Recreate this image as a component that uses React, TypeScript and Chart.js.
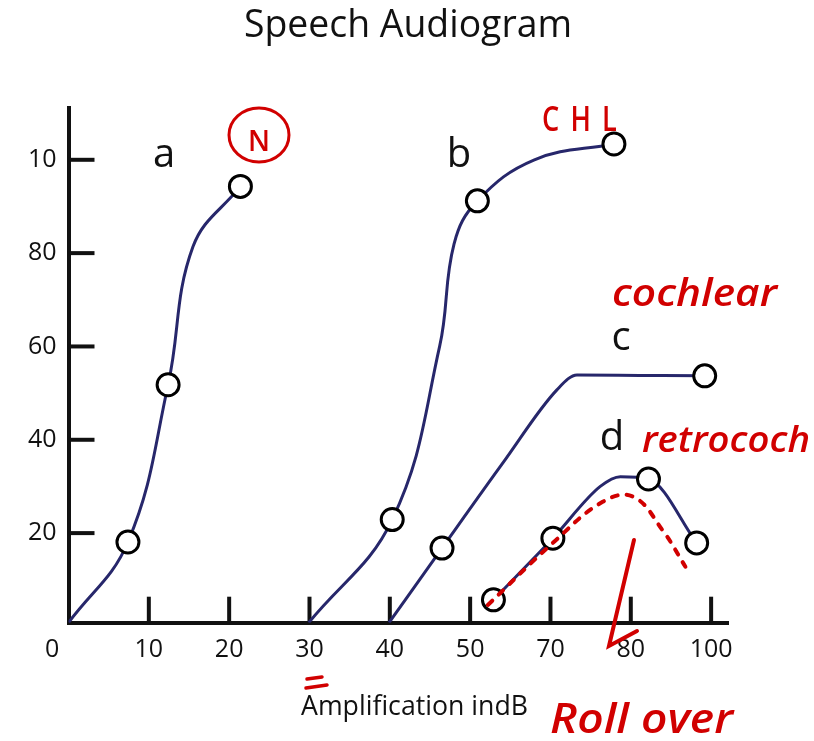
import React, { useEffect, useRef } from "react";
import { Chart, registerables } from "chart.js";

Chart.register(...registerables);

// ---- axis tick labels ----
const xTickLabels = ["0", "10", "20", "30", "40", "50", "70", "80", "100"];
const yTickValues = [20, 40, 60, 80, 100];
const yTickLabels = ["20", "40", "60", "80", "10"];

// ---- curve a ----
const aX = [0, 0.74, 1.24, 1.55, 2.14];
const aY = [0.8, 18.1, 51.8, 81.4, 94.3];
const aMarker = [false, true, true, false, true];

// ---- curve b ----
const bX = [2.99, 4.03, 4.62, 4.8, 5.09, 5.8, 6.79];
const bY = [0.8, 22.9, 60.0, 82.0, 91.2, 100.0, 103.4];
const bMarker = [false, true, false, false, true, false, true];

// ---- curve c ----
const cX = [3.99, 4.65, 5.41, 6.08, 6.33, 7.11, 7.92];
const cY = [0.8, 16.8, 35.1, 50.7, 53.9, 53.8, 53.7];
const cMarker = [false, true, false, false, false, false, true];

// ---- curve d ----
const dX = [5.29, 6.03, 6.62, 6.87, 7.22, 7.82];
const dY = [5.7, 18.9, 30.0, 32.1, 31.6, 17.9];
const dMarker = [true, true, false, false, true, true];

// ---- red dotted (hand-drawn roll-over) ----
const rX = [5.22, 6.03, 6.65, 7.03, 7.4, 7.68];
const rY = [4.6, 17.9, 26.7, 27.8, 20.5, 12.8];

const NAVY = "#27276b";
const RED = "#d10000";
const FONT = '"Open Sans", "Noto Sans", sans-serif';

function pts(xs: number[], ys: number[]) {
  return xs.map((x, i) => ({ x, y: ys[i] }));
}

function curve(
  label: string,
  xs: number[],
  ys: number[],
  marker: boolean[],
  mode: "default" | "monotone",
  tension: number
) {
  return {
    label,
    data: pts(xs, ys),
    borderColor: NAVY,
    borderWidth: 3,
    cubicInterpolationMode: mode,
    tension,
    fill: false,
    pointRadius: marker.map((m) => (m ? 11 : 0)),
    pointBackgroundColor: "#ffffff",
    pointBorderColor: "#000000",
    pointBorderWidth: 3,
    order: 2,
  };
}

function drawFitted(
  ctx: CanvasRenderingContext2D,
  text: string,
  x0: number,
  x1: number,
  baseline: number,
  font: string,
  spacing = "0px"
) {
  ctx.save();
  ctx.font = font;
  (ctx as any).letterSpacing = spacing;
  ctx.textAlign = "left";
  ctx.textBaseline = "alphabetic";
  const w = ctx.measureText(text).width;
  const sx = (x1 - x0) / w;
  ctx.translate(x0, baseline);
  ctx.scale(sx, 1);
  ctx.fillText(text, 0, 0);
  ctx.restore();
}

const decorPlugin = {
  id: "decor",
  beforeDatasetsDraw(chart: any) {
    const { ctx, chartArea, scales } = chart;
    const x = scales.x;
    const y = scales.y;
    ctx.save();
    ctx.strokeStyle = "#111111";
    ctx.lineWidth = 4;
    x.ticks.forEach((t: any) => {
      if (t.value === 0) return;
      const px = x.getPixelForValue(t.value);
      ctx.beginPath();
      ctx.moveTo(px, chartArea.bottom);
      ctx.lineTo(px, chartArea.bottom - 26);
      ctx.stroke();
    });
    y.ticks.forEach((t: any) => {
      const py = y.getPixelForValue(t.value);
      ctx.beginPath();
      ctx.moveTo(chartArea.left, py);
      ctx.lineTo(chartArea.left + 26, py);
      ctx.stroke();
    });
    ctx.restore();
  },
  afterDraw(chart: any) {
    const { ctx } = chart;
    ctx.save();
    // title
    ctx.fillStyle = "#111111";
    drawFitted(ctx, "Speech Audiogram", 244, 572, 37, `38px ${FONT}`);
    // axis title
    drawFitted(ctx, "Amplification indB", 301, 528, 715, `27px ${FONT}`);
    // curve letters
    ctx.font = `40px ${FONT}`;
    ctx.textAlign = "center";
    ctx.textBaseline = "alphabetic";
    ctx.fillText("a", 164, 167);
    ctx.fillText("b", 459, 167);
    ctx.fillText("c", 621, 350);
    ctx.fillText("d", 612, 450);

    // red hand annotations
    ctx.fillStyle = RED;
    ctx.strokeStyle = RED;
    ctx.lineCap = "round";
    ctx.lineWidth = 3;
    ctx.beginPath();
    ctx.ellipse(259, 135, 30, 27, 0, 0, Math.PI * 2);
    ctx.stroke();
    drawFitted(ctx, "N", 248, 270, 151, `600 28px ${FONT}`);
    drawFitted(ctx, "CHL", 542, 628, 131, `600 34px ${FONT}`, "14px");
    drawFitted(ctx, "cochlear", 612, 777, 306, `italic 600 38px ${FONT}`);
    drawFitted(ctx, "retrococh", 642, 810, 452, `italic 600 36px ${FONT}`);
    drawFitted(ctx, "Roll over", 550, 733, 733, `italic 600 42px ${FONT}`);
    // "=" marks above A
    ctx.lineWidth = 3.5;
    ctx.beginPath();
    ctx.moveTo(307, 679);
    ctx.lineTo(322, 677);
    ctx.moveTo(306, 688);
    ctx.lineTo(327, 685);
    ctx.stroke();
    // arrow
    ctx.lineWidth = 4;
    ctx.beginPath();
    ctx.moveTo(634, 540);
    ctx.lineTo(609, 646);
    ctx.lineTo(637, 631);
    ctx.stroke();
    ctx.restore();
  },
};

export default function App() {
  const ref = useRef<HTMLCanvasElement | null>(null);
  useEffect(() => {
    if (!ref.current) return;
    const chart = new Chart(ref.current, {
      type: "line",
      data: {
        datasets: [
          {
            label: "roll-over",
            data: pts(rX, rY),
            borderColor: RED,
            borderWidth: 4,
            borderDash: [6, 9],
            borderCapStyle: "round",
            cubicInterpolationMode: "default",
            tension: 0.4,
            fill: false,
            pointRadius: 0,
            order: 1,
          } as any,
          curve("a", aX, aY, aMarker, "default", 0.4) as any,
          curve("b", bX, bY, bMarker, "default", 0.4) as any,
          curve("c", cX, cY, cMarker, "monotone", 0.4) as any,
          curve("d", dX, dY, dMarker, "monotone", 0.4) as any,
        ],
      },
      options: {
        animation: false,
        responsive: false,
        maintainAspectRatio: false,
        layout: { padding: { top: 108, right: 86, bottom: 0, left: 0 } },
        plugins: {
          legend: { display: false },
          title: { display: false },
          tooltip: { enabled: false },
        },
        scales: {
          x: {
            type: "linear",
            min: 0,
            max: 8.21,
            grid: { display: false, drawTicks: false },
            border: { display: true, color: "#111111", width: 4 },
            ticks: {
              color: "#111111",
              font: { family: FONT, size: 25 },
              padding: 12,
              autoSkip: false,
              maxRotation: 0,
              callback: (v: any) =>
                v === 0 ? "0     " : xTickLabels[Math.round(Number(v))] ?? "",
            },
            afterBuildTicks: (s: any) => {
              s.ticks = xTickLabels.map((_, i) => ({ value: i }));
            },
            afterFit: (s: any) => {
              s.height = 741 - 622.7;
            },
          },
          y: {
            type: "linear",
            min: 0.8,
            max: 111.1,
            grid: { display: false, drawTicks: false },
            border: { display: true, color: "#111111", width: 4 },
            ticks: {
              color: "#111111",
              font: { family: FONT, size: 25 },
              padding: 12,
              autoSkip: false,
              callback: (v: any) => {
                const i = yTickValues.indexOf(Number(v));
                return i >= 0 ? yTickLabels[i] : "";
              },
            },
            afterBuildTicks: (s: any) => {
              s.ticks = yTickValues.map((v) => ({ value: v }));
            },
            afterFit: (s: any) => {
              s.width = 68.5;
            },
          },
        },
      },
      plugins: [decorPlugin],
    });
    return () => chart.destroy();
  }, []);
  return (
    <div
      style={{
        position: "fixed",
        left: 0,
        top: 0,
        width: 814,
        height: 741,
        background: "#ffffff",
      }}
    >
      <canvas
        ref={ref}
        width={814}
        height={741}
        style={{ display: "block", width: 814, height: 741 }}
      />
    </div>
  );
}
